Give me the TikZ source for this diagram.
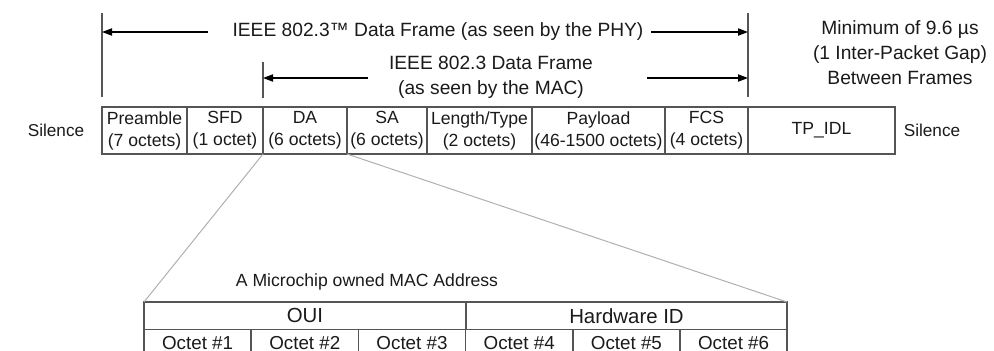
\documentclass[tikz,border=0pt]{standalone}
\usepackage{fontspec}
\setmainfont{Liberation Sans}
\usepackage{xcolor}
\usetikzlibrary{positioning}
\usetikzlibrary{arrows.meta}
\definecolor{linegray}{HTML}{555555}
\definecolor{zoomgray}{HTML}{B0B0B0}
\definecolor{inkgray}{HTML}{1A1A1A}
\tikzset{
  cell/.style={draw=linegray, line width=0.8pt, inner sep=0pt, outer sep=0pt,
    minimum height=23.5pt, align=center, text=inkgray,
    font=\fontsize{8.8}{11}\selectfont},
  hdr/.style={draw=linegray, line width=0.8pt, inner sep=0pt, outer sep=0pt,
    minimum height=13.75pt, text=inkgray, font=\fontsize{10.2}{12}\selectfont},
  octet/.style={hdr, minimum width=53.6pt, font=\fontsize{9.4}{12}\selectfont},
  label/.style={align=center, text=inkgray, font=\fontsize{9.6}{12.5}\selectfont},
  small/.style={text=inkgray, font=\fontsize{8.6}{11}\selectfont},
  marker/.style={draw=linegray, line width=0.8pt},
  arr/.style={draw=black, line width=0.6pt, -{Triangle[length=5pt,width=3.6pt]}},
  zoomline/.style={draw=zoomgray, line width=0.5pt}
}
\begin{document}
\begin{tikzpicture}[x=0.5pt,y=-0.5pt]
\useasboundingbox (0,0) rectangle (994,350);
\node[cell, minimum width=42.5pt, anchor=north west] (pre) at (102,107) {Preamble\\(7 octets)};
\node[cell, minimum width=38pt, right=0pt of pre] (sfd) {SFD\\(1 octet)};
\node[cell, minimum width=42pt, right=0pt of sfd] (da) {DA\\(6 octets)};
\node[cell, minimum width=40pt, right=0pt of da] (sa) {SA\\(6 octets)};
\node[cell, minimum width=52.5pt, right=0pt of sa] (lt) {Length/Type\\(2 octets)};
\node[cell, minimum width=66.5pt, right=0pt of lt] (pay) {Payload\\(46-1500 octets)};
\node[cell, minimum width=41.5pt, right=0pt of pay] (fcs) {FCS\\(4 octets)};
\node[cell, minimum width=73.5pt, right=0pt of fcs] (idl) {TP\_IDL};
\node[small] (silL) at (56,130) {Silence};
\node[small] (silR) at (932,130) {Silence};

\draw[marker] ([yshift=5pt]pre.north west) -- ([yshift=47pt]pre.north west);
\draw[marker] ([yshift=5pt]fcs.north east) -- ([yshift=47pt]fcs.north east);
\draw[marker] ([yshift=4.5pt]da.north west) -- ([yshift=22.5pt]da.north west);

\node[label] (phy) at (438,32) {IEEE 802.3™ Data Frame (as seen by the PHY)};
\coordinate (phyA) at (208,32);
\coordinate (phyB) at (651,32);
\draw[arr] (phyA) -- (phyA -| pre.north west);
\draw[arr] (phyB) -- (phyB -| fcs.north east);

\node[label] (mac) at (491,77) {IEEE 802.3 Data Frame\\(as seen by the MAC)};
\coordinate (macA) at (368,78);
\coordinate (macB) at (647,78);
\draw[arr] (macA) -- (macA -| da.north west);
\draw[arr] (macB) -- (macB -| fcs.north east);

\node[label] (gap) at (900,53) {Minimum of 9.6 µs\\(1 Inter-Packet Gap)\\Between Frames};

\node[small, font=\fontsize{8.8}{11}\selectfont] (maclbl) at (367,282) {A Microchip owned MAC Address};
\node[hdr, minimum width=161pt, anchor=north west] (oui) at (144,302) {OUI};
\node[hdr, minimum width=160.5pt, right=0pt of oui] (hwid) {Hardware ID};
\node[octet, anchor=north west] (o1) at (oui.south west) {Octet \#1};
\node[octet, right=0pt of o1] (o2) {Octet \#2};
\node[octet, right=0pt of o2] (o3) {Octet \#3};
\node[octet, right=0pt of o3] (o4) {Octet \#4};
\node[octet, right=0pt of o4] (o5) {Octet \#5};
\node[octet, right=0pt of o5] (o6) {Octet \#6};

\draw[zoomline] (da.south west) -- (oui.north west);
\draw[zoomline] (sa.south west) -- (hwid.north east);
\end{tikzpicture}
\end{document}
